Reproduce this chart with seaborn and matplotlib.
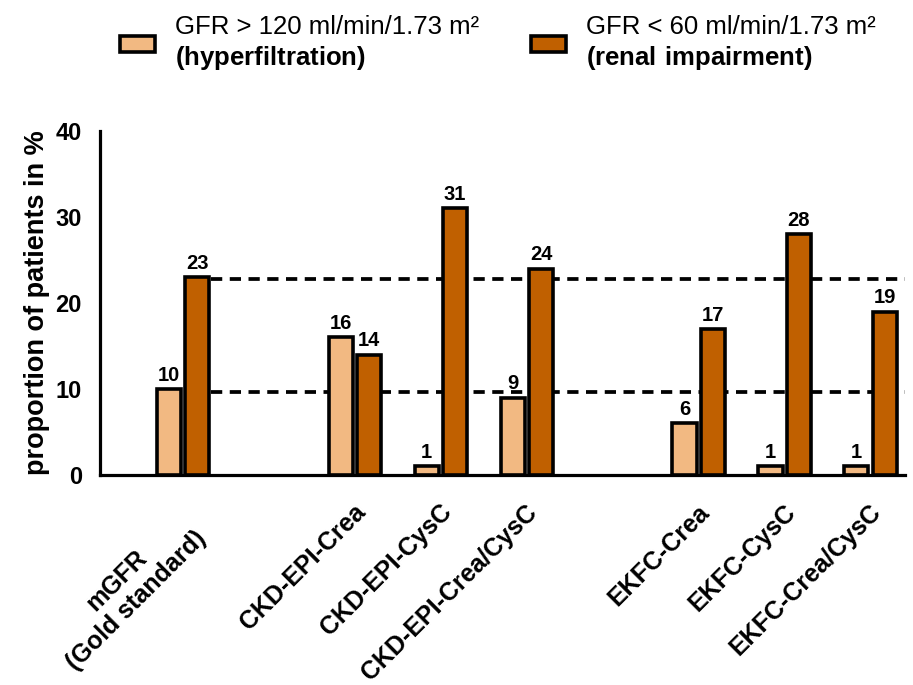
import matplotlib
matplotlib.use("Agg")
import matplotlib.pyplot as plt
import matplotlib.transforms as mtransforms
import numpy as np
import pandas as pd
import seaborn as sns

# categories (blank entries keep the gaps between the equation families)
methods = ["mGFR\n(Gold standard)", "", "CKD-EPI-Crea", "CKD-EPI-CysC",
           "CKD-EPI-Crea/CysC", " ", "EKFC-Crea", "EKFC-CysC", "EKFC-Crea/CysC"]
measured = ["mGFR\n(Gold standard)", "CKD-EPI-Crea", "CKD-EPI-CysC",
            "CKD-EPI-Crea/CysC", "EKFC-Crea", "EKFC-CysC", "EKFC-Crea/CysC"]
hyperfiltration = [10, 16, 1, 9, 6, 1, 1]
impairment = [23, 14, 31, 24, 17, 28, 19]
ref_levels = [9.6, 22.8]  # mGFR reference lines

groups = ["hyper", "impair"]
group_labels = ["GFR > 120 ml/min/1.73 m²\n$\\bf{(hyperfiltration)}$",
                "GFR < 60 ml/min/1.73 m²\n$\\bf{(renal\\ impairment)}$"]
palette = {"hyper": "#F2B982", "impair": "#C06000"}

df = pd.DataFrame({
    "method": measured * 2,
    "group": ["hyper"] * len(measured) + ["impair"] * len(measured),
    "value": hyperfiltration + impairment,
})

sns.set_style("white")
plt.rcParams["font.family"] = ["Liberation Sans", "DejaVu Sans"]
plt.rcParams["mathtext.fontset"] = "custom"
plt.rcParams["mathtext.rm"] = "Liberation Sans"
plt.rcParams["mathtext.bf"] = "Liberation Sans:bold"
for key in ["text.color", "axes.labelcolor", "xtick.color", "ytick.color",
            "axes.edgecolor"]:
    plt.rcParams[key] = "black"

fig = plt.figure(figsize=(9.13, 6.85), dpi=100)
ax = fig.add_axes([100 / 913, 1 - 475 / 685, 805 / 913, 344 / 685])

sns.barplot(data=df, x="method", y="value", hue="group", order=methods,
            hue_order=groups, palette=palette, width=0.66, gap=0.15,
            edgecolor="black", linewidth=2.6, saturation=1, ax=ax, zorder=3)

for cont in ax.containers:
    ax.bar_label(cont, fmt="%d", padding=3, fontsize=14.5, fontweight="bold")

ax.hlines(ref_levels, 0.33, 8.45, colors="black", linewidth=2.7,
          linestyles=(0, (3, 2)), zorder=2)

ax.set_xlim(-0.965, 8.4)
ax.set_ylim(0, 40)
ax.set_yticks([0, 10, 20, 30, 40])
ax.set_xlabel("")
ax.set_ylabel("proportion of patients in %", fontsize=19.5, fontweight="bold",
              labelpad=4)

sns.despine(ax=ax)
for side in ["left", "bottom"]:
    ax.spines[side].set_linewidth(2.3)
ax.tick_params(axis="y", length=10, width=2.3, labelsize=17, pad=3)
ax.tick_params(axis="x", length=0, labelsize=18, pad=24)
for lbl in ax.get_yticklabels():
    lbl.set_fontweight("bold")

for i, lbl in enumerate(ax.get_xticklabels()):
    dx, dy = (7, -12) if i == 0 else (5, 0)
    offset = mtransforms.ScaledTranslation(dx / 72, dy / 72, fig.dpi_scale_trans)
    lbl.set_rotation(45)
    lbl.set_ha("right")
    lbl.set_va("center")
    lbl.set_rotation_mode("anchor")
    lbl.set_multialignment("center")
    lbl.set_fontweight("bold")
    lbl.set_transform(lbl.get_transform() + offset)

handles, _ = ax.get_legend_handles_labels()
ax.get_legend().remove()
fig.legend(handles, group_labels, loc="upper left", bbox_to_anchor=(0.126, 0.985),
           ncol=2, frameon=False, fontsize=18.5, handlelength=1.35,
           handleheight=0.55, handletextpad=0.8, columnspacing=2.0,
           borderpad=0.2, borderaxespad=0)

fig.savefig("out.png", dpi=100)
